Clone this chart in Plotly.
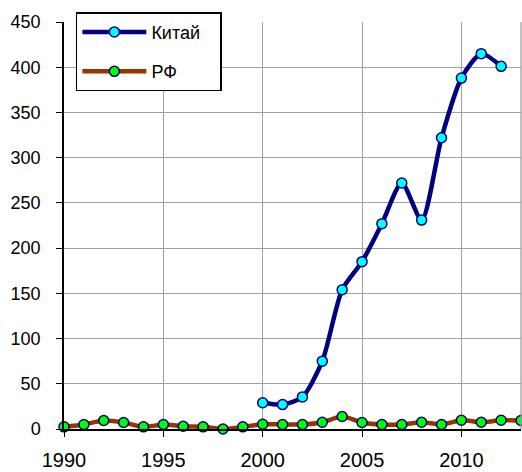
import plotly.graph_objects as go

years_china = list(range(2000, 2013))
china = [29, 27, 35.5, 75, 154, 185, 227, 272, 231, 322, 388, 415, 401]

years_rf = list(range(1990, 2014))
rf = [2.4, 5, 9.4, 7.2, 2.4, 5, 3, 2.4, 0, 2.4, 5.3, 5, 5, 7.5, 13.8, 7.2, 5, 5, 7.5, 5, 9.7, 7.5, 9.7, 9.4]

x_ticks = [1990, 1995, 2000, 2005, 2010]
y_ticks = [0, 50, 100, 150, 200, 250, 300, 350, 400, 450]

fig = go.Figure()
fig.add_trace(go.Scatter(
    x=years_china, y=china, name="Китай\u00a0\u00a0\u00a0", mode="lines+markers", legendgroup="a",
    line=dict(color="#000080", width=4.5, shape="spline", smoothing=0.7),
    marker=dict(color="#00FFFF", size=10, line=dict(color="#000080", width=1.5)),
    cliponaxis=False,
))
fig.add_trace(go.Scatter(
    x=years_rf, y=rf, name="РФ", mode="lines+markers", legendgroup="b",
    line=dict(color="#993300", width=4.5, shape="spline", smoothing=0.7),
    marker=dict(color="#00FF00", size=10, line=dict(color="#000080", width=1.5)),
    cliponaxis=False,
))

fig.update_layout(
    width=522, height=472,
    margin=dict(l=64, r=1, t=22, b=41),
    paper_bgcolor="white", plot_bgcolor="white",
    font=dict(family="Liberation Sans, Arial, sans-serif", size=18, color="black"),
    showlegend=True,
    legend=dict(
        x=0.026, y=1.024, xanchor="left", yanchor="top",
        bordercolor="black", borderwidth=1.5, bgcolor="white",
        font=dict(size=18), tracegroupgap=13, itemwidth=64,
        traceorder="grouped",
    ),
    xaxis=dict(
        range=[1990, 2013], tickvals=x_ticks, ticktext=[str(v) for v in x_ticks],
        showgrid=True, gridcolor="#A0A0A0", gridwidth=1.3,
        showline=True, linecolor="black", linewidth=1.5,
        ticks="outside", ticklen=6, tickcolor="black", zeroline=False,
        tickfont=dict(size=20), ticklabelstandoff=6,
    ),
    yaxis=dict(
        range=[0, 450], tickvals=y_ticks,
        showgrid=True, gridcolor="#A0A0A0", gridwidth=1.3,
        showline=True, linecolor="black", linewidth=1.5,
        ticks="outside", ticklen=6, tickcolor="black", zeroline=False,
        tickfont=dict(size=18), ticklabelstandoff=12,
    ),
)
# right border of plot area
fig.add_shape(type="line", xref="paper", yref="paper", x0=1, x1=1, y0=0, y1=1,
              line=dict(color="#A0A0A0", width=1.3))

fig.write_html("out.html", config={"displayModeBar": False},
               post_script="document.body.style.margin='0';document.body.style.overflow='hidden';")
